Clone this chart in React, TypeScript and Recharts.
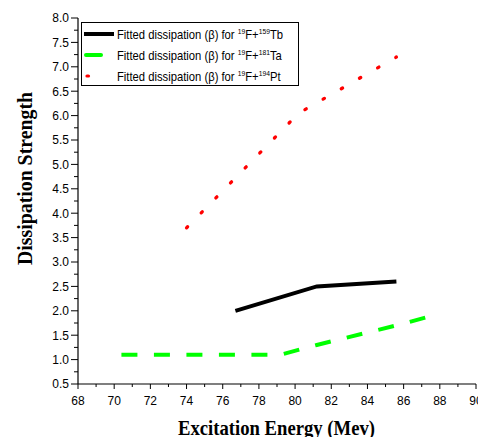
import React from 'react';
import { LineChart, Line, XAxis, YAxis, Legend, Label } from 'recharts';

// excitation energy (MeV) vs fitted dissipation strength
const tbEnergy = [76.7, 81.2, 85.6];
const tbBeta = [2.0, 2.5, 2.6];

const taEnergy = [70.4, 79.2, 81.2, 85.6, 87.6];
const taBeta = [1.1, 1.1, 1.3, 1.7, 1.9];

const ptEnergy = [74.0, 80.2, 85.6];
const ptBeta = [3.7, 6.05, 7.2];

const xMajorTicks = [68, 70, 72, 74, 76, 78, 80, 82, 84, 86, 88, 90];
const xMinorTicks = [69, 71, 73, 75, 77, 79, 81, 83, 85, 87, 89];
const yMajorTicks = [0.5, 1.0, 1.5, 2.0, 2.5, 3.0, 3.5, 4.0, 4.5, 5.0, 5.5, 6.0, 6.5, 7.0, 7.5, 8.0];
const yMinorTicks = [0.75, 1.25, 1.75, 2.25, 2.75, 3.25, 3.75, 4.25, 4.75, 5.25, 5.75, 6.25, 6.75, 7.25, 7.75];

const legendItems = [
  { target: '159', element: 'Tb', color: '#000000' },
  { target: '181', element: 'Ta', color: '#00ff00' },
  { target: '194', element: 'Pt', color: '#ff0000' },
];

const toPoints = (xs: number[], ys: number[]) => xs.map((x, i) => ({ x, y: ys[i] }));

const tbData = toPoints(tbEnergy, tbBeta);
const taData = toPoints(taEnergy, taBeta);
const ptData = toPoints(ptEnergy, ptBeta);

const xAll = [...xMajorTicks, ...xMinorTicks].sort((a, b) => a - b);
const yAll = [...yMajorTicks, ...yMinorTicks].sort((a, b) => a - b);

const tickFont = "'Liberation Sans', Arial, sans-serif";
const titleFont = "'Liberation Serif', 'Times New Roman', serif";

const isMajorY = (v: number) => Math.abs(v * 2 - Math.round(v * 2)) < 1e-6;

const BottomTick: React.FC<any> = ({ x, y, payload }) => {
  const major = payload.value % 2 === 0;
  return (
    <g>
      <line x1={x} y1={y} x2={x} y2={y + (major ? 5 : 3)} stroke="#000" />
      {major && (
        <text x={x} y={y + 21} textAnchor="middle" fontSize={12} fontFamily={tickFont} fill="#000">
          {payload.value}
        </text>
      )}
    </g>
  );
};

const TopTick: React.FC<any> = ({ x, y, payload }) => {
  const major = payload.value % 2 === 0;
  return <line x1={x} y1={y} x2={x} y2={y + (major ? 6 : 4)} stroke="#000" />;
};

const LeftTick: React.FC<any> = ({ x, y, payload }) => {
  const major = isMajorY(payload.value);
  return (
    <g>
      <line x1={x} y1={y} x2={x - (major ? 7 : 4)} y2={y} stroke="#000" />
      {major && (
        <text x={x - 9} y={y + 4.3} textAnchor="end" fontSize={12} fontFamily={tickFont} fill="#000">
          {payload.value.toFixed(1)}
        </text>
      )}
    </g>
  );
};

const RightTick: React.FC<any> = ({ x, y, payload }) => {
  const major = isMajorY(payload.value);
  return <line x1={x} y1={y} x2={x - (major ? 6 : 4)} y2={y} stroke="#000" />;
};

const LegendBox = () => (
  <svg width={218} height={64} style={{ display: 'block' }}>
    <rect x={0.5} y={0.5} width={217} height={63} fill="#fff" stroke="#000" />
    {legendItems.map((item, i) => {
      const cy = 12 + i * 21;
      return (
        <g key={item.element}>
          {i === 0 && <line x1={3} y1={cy} x2={33} y2={cy} stroke={item.color} strokeWidth={4} />}
          {i === 1 && <line x1={5} y1={cy} x2={20} y2={cy} stroke={item.color} strokeWidth={4} strokeLinecap="round" />}
          {i === 2 && (
            <line x1={6} y1={cy} x2={22} y2={cy} stroke={item.color} strokeWidth={3.2}
              strokeDasharray="1.5 14.5" strokeLinecap="round" />
          )}
          <g transform={`translate(36 ${cy + 4.5}) scale(0.9 1)`}>
            <text x={0} y={0} fontSize={12.5} fontFamily={tickFont} fill="#000">
              Fitted dissipation (β) for <tspan fontSize={7.5} dy={-5}>19</tspan>
              <tspan fontSize={12.5} dy={5}>F+</tspan>
              <tspan fontSize={7.5} dy={-5}>{item.target}</tspan>
              <tspan fontSize={12.5} dy={5}>{item.element}</tspan>
            </text>
          </g>
        </g>
      );
    })}
  </svg>
);

export default function App() {
  return (
    <div style={{ position: 'absolute', left: 0, top: 0, width: 478, height: 437, background: '#fff' }}>
      <LineChart width={478} height={437} margin={{ top: 18, right: 2, bottom: 0, left: 0 }}>
        <XAxis
          xAxisId="bottom"
          dataKey="x"
          type="number"
          domain={[68, 90]}
          ticks={xAll}
          interval={0}
          allowDataOverflow
          height={53}
          tickSize={0}
          tickMargin={0}
          tickLine={false}
          tick={<BottomTick />}
          axisLine={{ stroke: '#000', strokeWidth: 1.2 }}
        >
          <Label
            content={() => (
              <text x={276.5} y={435} textAnchor="middle" fontSize={22} fontWeight="bold" fontFamily={titleFont}
                fill="#000" textLength={197} lengthAdjust="spacingAndGlyphs">
                Excitation Energy (Mev)
              </text>
            )}
          />
        </XAxis>
        <XAxis
          xAxisId="top"
          orientation="top"
          dataKey="x"
          type="number"
          domain={[68, 90]}
          ticks={xAll}
          interval={0}
          height={0}
          tickSize={0}
          tickMargin={0}
          tickLine={false}
          tick={<TopTick />}
          axisLine={{ stroke: '#000', strokeWidth: 1.2 }}
        />
        <YAxis
          yAxisId="left"
          type="number"
          domain={[0.5, 8]}
          ticks={yAll}
          interval={0}
          allowDataOverflow
          width={78}
          tickSize={0}
          tickMargin={0}
          tickLine={false}
          tick={<LeftTick />}
          axisLine={{ stroke: '#000', strokeWidth: 1.2 }}
        >
          <Label
            content={() => (
              <text x={32} y={178.5} transform="rotate(-90 32 178.5)" textAnchor="middle" fontSize={22}
                fontWeight="bold" fontFamily={titleFont} fill="#000" textLength={173} lengthAdjust="spacingAndGlyphs">
                Dissipation Strength
              </text>
            )}
          />
        </YAxis>
        <YAxis
          yAxisId="right"
          orientation="right"
          type="number"
          domain={[0.5, 8]}
          ticks={yAll}
          interval={0}
          width={0}
          tickSize={0}
          tickMargin={0}
          tickLine={false}
          tick={<RightTick />}
          axisLine={{ stroke: '#000', strokeWidth: 1.2 }}
        />
        <Legend
          layout="horizontal"
          verticalAlign="middle"
          align="center"
          wrapperStyle={{ left: 81, top: 22, width: 218, height: 64 }}
          content={() => <LegendBox />}
        />
        <Line
          xAxisId="bottom"
          yAxisId="left"
          data={tbData}
          dataKey="y"
          type="linear"
          stroke="#000000"
          strokeWidth={4}
          dot={false}
          activeDot={false}
          isAnimationActive={false}
        />
        <Line
          xAxisId="bottom"
          yAxisId="left"
          data={taData}
          dataKey="y"
          type="linear"
          stroke="#00ff00"
          strokeWidth={4}
          strokeDasharray="16 16.5"
          dot={false}
          activeDot={false}
          isAnimationActive={false}
        />
        <Line
          xAxisId="bottom"
          yAxisId="left"
          data={ptData}
          dataKey="y"
          type="linear"
          stroke="#ff0000"
          strokeWidth={3.3}
          strokeDasharray="1.5 19.45"
          strokeLinecap="round"
          dot={false}
          activeDot={false}
          isAnimationActive={false}
        />
      </LineChart>
    </div>
  );
}
